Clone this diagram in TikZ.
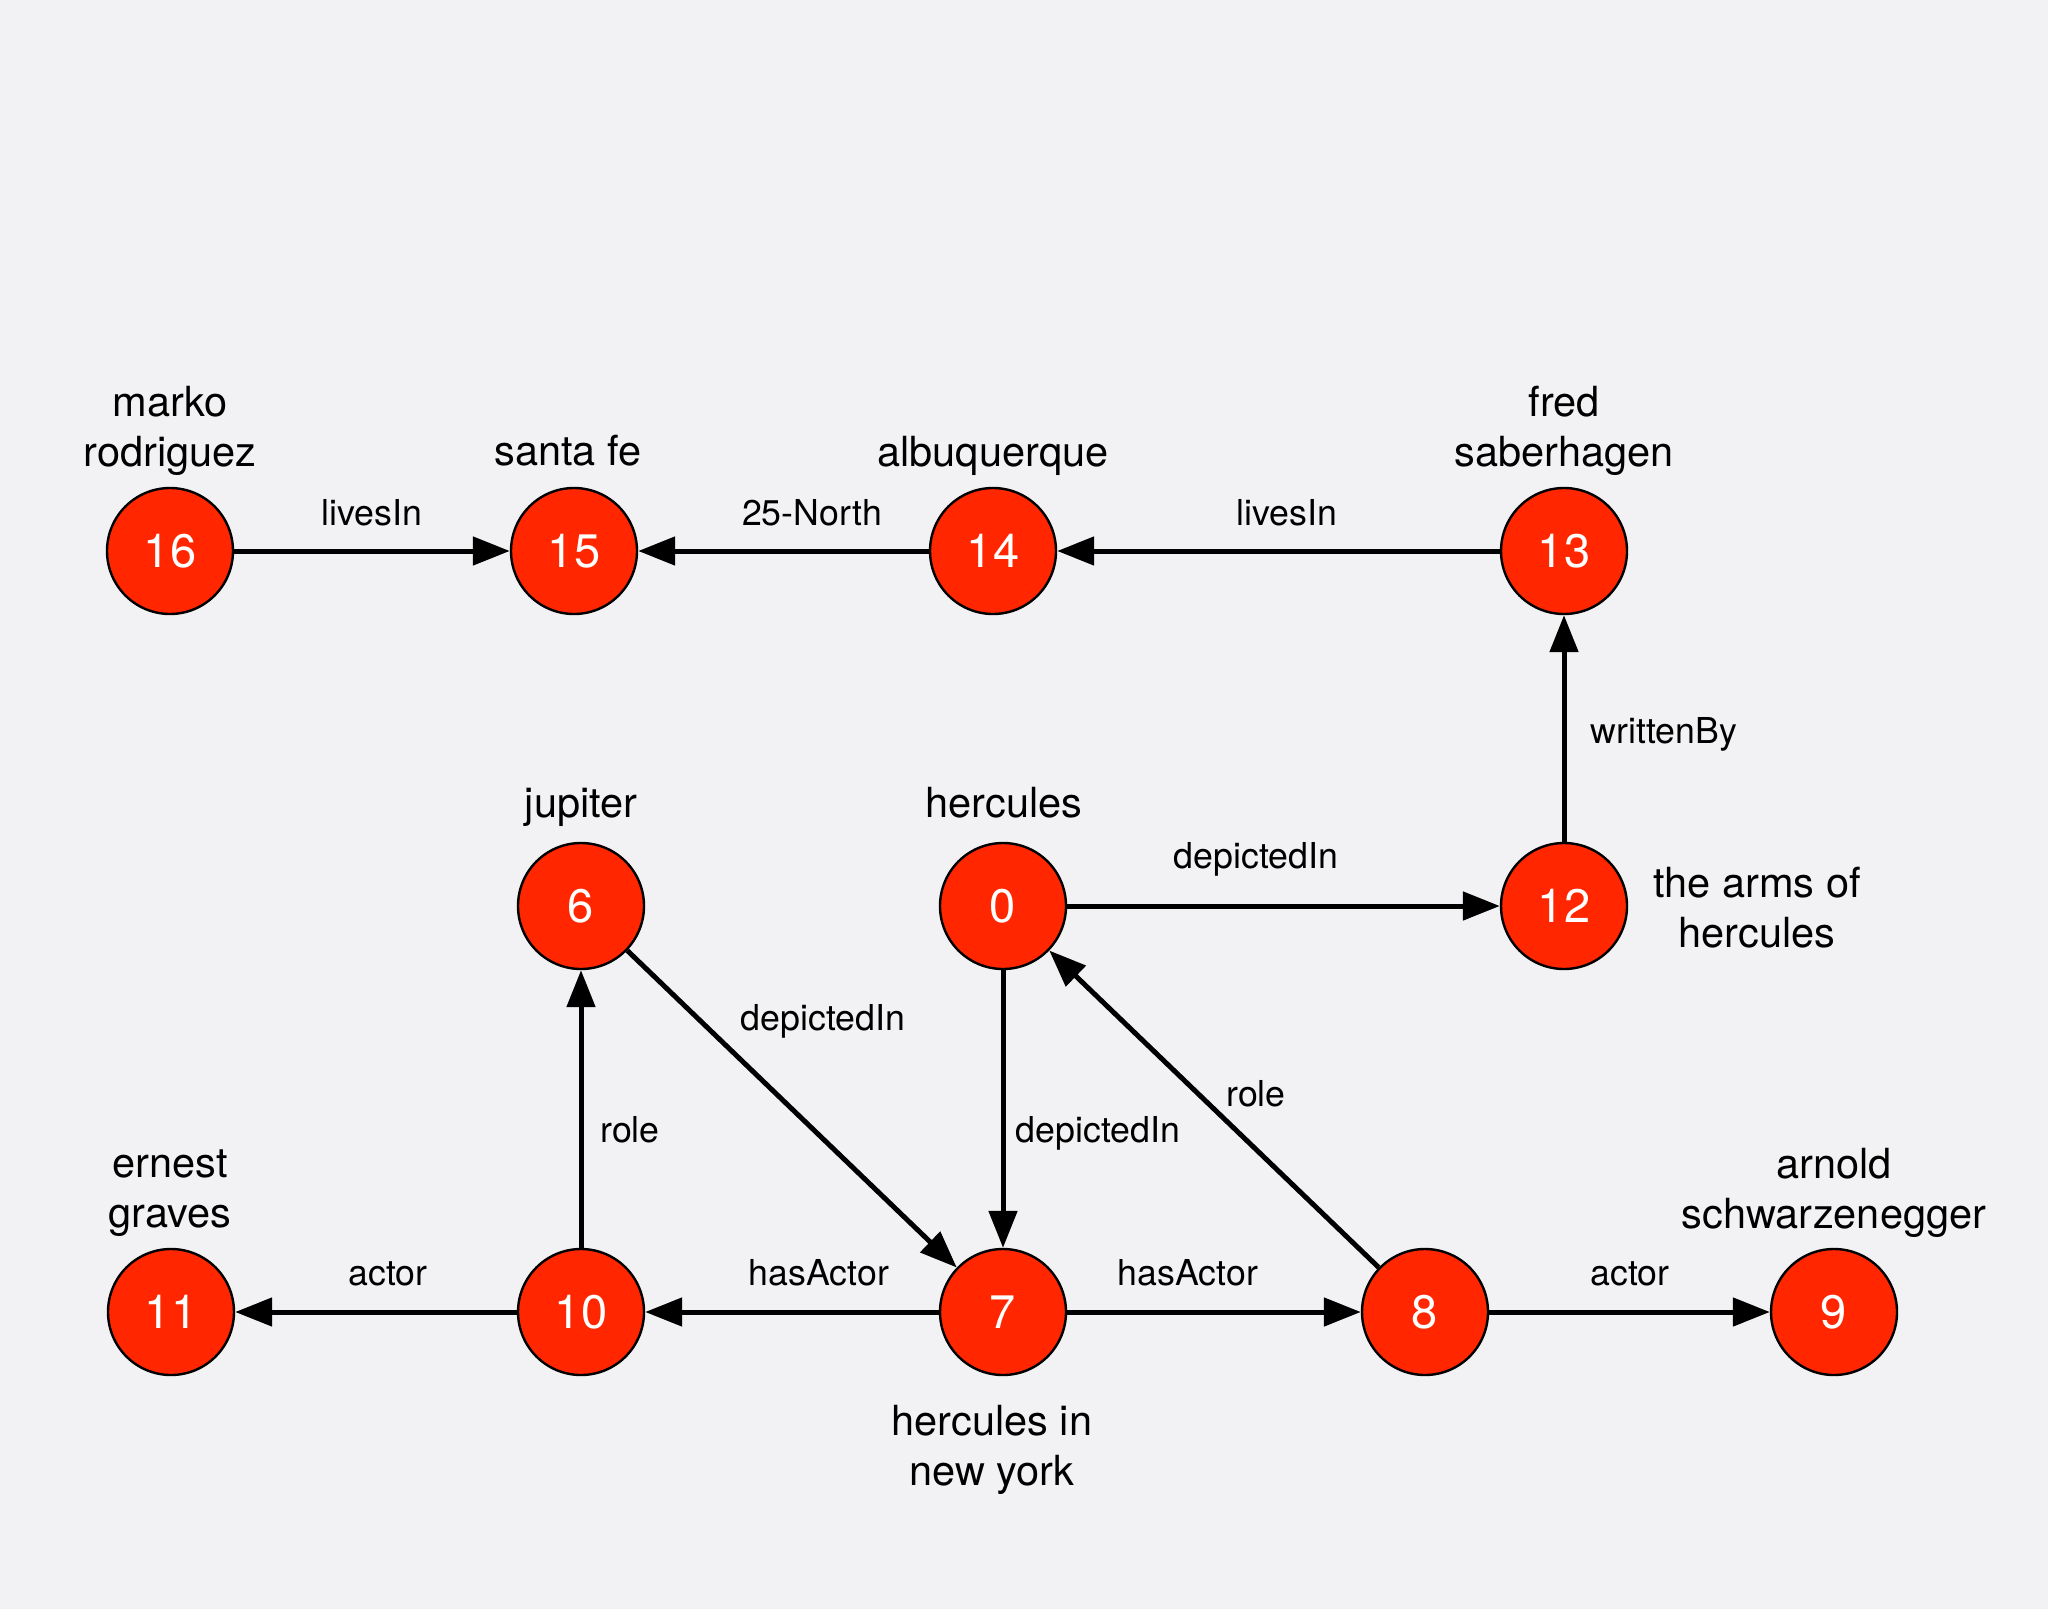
\documentclass[tikz,border=0pt]{standalone}
\usepackage{fontspec}
\setmainfont{TeX Gyre Heros}
\usetikzlibrary{arrows.meta}
\definecolor{bg}{RGB}{242,242,244}
\definecolor{nodered}{RGB}{255,38,0}
\begin{document}
\begin{tikzpicture}[x=0.5pt,y=-0.5pt,
  vert/.style={circle, draw=black, line width=1.2pt, fill=nodered, minimum size=63pt, inner sep=0pt, text=white, font=\fontsize{23.5}{28}\selectfont},
  nlabel/.style={align=center, font=\fontsize{20.75}{25}\selectfont, inner sep=0pt},
  elabel/.style={font=\fontsize{17.85}{21}\selectfont, inner sep=0pt, anchor=base},
  edge/.style={line width=2.5pt, -{Triangle[length=18.5pt,width=14pt]}}]
\fill[bg] (0,0) rectangle (2048,1609);
\useasboundingbox (0,0) rectangle (2048,1609);
% vertices
\node[vert] (n16) at (170,551) {16};
\node[vert] (n15) at (574,551) {15};
\node[vert] (n14) at (993,551) {14};
\node[vert] (n13) at (1564,551) {13};
\node[vert] (n6) at (581,906) {6};
\node[vert] (n0) at (1003,906) {0};
\node[vert] (n12) at (1564,906) {12};
\node[vert] (n11) at (171,1312) {11};
\node[vert] (n10) at (581,1312) {10};
\node[vert] (n7) at (1003,1312) {7};
\node[vert] (n8) at (1425,1312) {8};
\node[vert] (n9) at (1834,1312) {9};
% vertex names
\node[nlabel] (t16) at (170,430.5) {marko\\rodriguez};
\node[nlabel] (t15) at (568,451) {santa fe};
\node[nlabel] (t14) at (993,455.5) {albuquerque};
\node[nlabel] (t13) at (1564,430.5) {fred\\saberhagen};
\node[nlabel] (t6) at (581,807.5) {jupiter};
\node[nlabel] (t0) at (1004,803) {hercules};
\node[nlabel] (t12) at (1757,907.5) {the arms of\\hercules};
\node[nlabel] (t11) at (170,1193.5) {ernest\\graves};
\node[nlabel] (t9) at (1834,1192.5) {arnold\\schwarzenegger};
\node[nlabel] (t7) at (992,1449.5) {hercules in\\new york};
% edges
\draw[edge] (n16) -- (n15);
\draw[edge] (n14) -- (n15);
\draw[edge] (n13) -- (n14);
\draw[edge] (n12) -- (n13);
\draw[edge] (n0) -- (n12);
\draw[edge] (n6) -- (n7);
\draw[edge] (n0) -- (n7);
\draw[edge] (n10) -- (n6);
\draw[edge] (n8) -- (n0);
\draw[edge] (n10) -- (n11);
\draw[edge] (n7) -- (n10);
\draw[edge] (n7) -- (n8);
\draw[edge] (n8) -- (n9);
% edge labels
\node[elabel] (e1) at (372,525) {livesIn};
\node[elabel] (e2) at (812,525) {25-North};
\node[elabel] (e3) at (1287,525) {livesIn};
\node[elabel] (e4) at (1664,743) {writtenBy};
\node[elabel] (e5) at (1256,868) {depictedIn};
\node[elabel] (e6) at (823,1030) {depictedIn};
\node[elabel] (e7) at (630,1142) {role};
\node[elabel] (e8) at (1098,1142) {depictedIn};
\node[elabel] (e9) at (1256,1106) {role};
\node[elabel] (e10) at (388,1285) {actor};
\node[elabel] (e11) at (819,1285) {hasActor};
\node[elabel] (e12) at (1188,1285) {hasActor};
\node[elabel] (e13) at (1630,1285) {actor};
\end{tikzpicture}
\end{document}
